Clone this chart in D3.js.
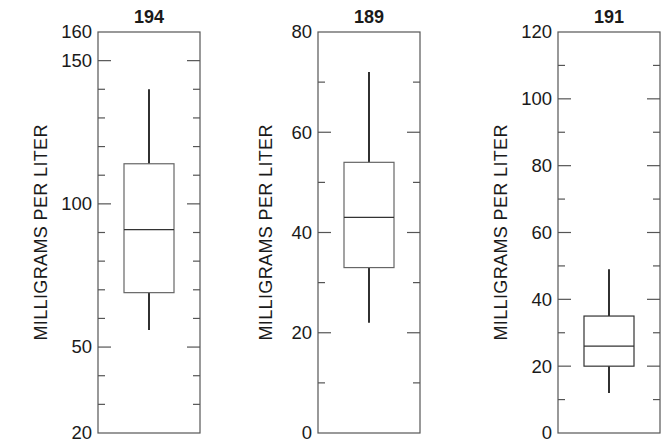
<!DOCTYPE html>
<html>
<head>
<meta charset="utf-8">
<script src="https://cdn.jsdelivr.net/npm/d3@7"></script>
<style>
  html, body { margin: 0; padding: 0; background: #fff; }
  svg { display: block; font-family: "Liberation Sans", Arial, Helvetica, sans-serif; }
</style>
</head>
<body>
<svg id="chart" width="666" height="444"></svg>
<script>
// ---- data ----
const titles = ["194", "189", "191"];
const yMin = [20, 0, 0];
const yMax = [160, 80, 120];
const tickLabels = [
  [20, 50, 100, 150, 160],
  [0, 20, 40, 60, 80],
  [0, 20, 40, 60, 80, 100, 120]
];
const majorTicks = [
  [50, 100, 150],
  [20, 40, 60],
  [20, 40, 60, 80, 100]
];
const minorTicks = [
  [30, 40, 60, 70, 80, 90, 110, 120, 130, 140],
  [10, 30, 50, 70],
  [10, 30, 50, 70, 90, 110]
];
const whiskerLow  = [56, 22, 12];
const quartile1   = [69, 33, 20];
const median      = [91, 43, 26];
const quartile3   = [114, 54, 35];
const whiskerHigh = [140, 72, 49];
const axisTitle = "MILLIGRAMS PER LITER";

// ---- layout ----
const frameLeft = [98, 318, 558];
const frameW = 102;
const plotTop = 32, plotBottom = 433;
const boxW = 50;
const titleOffset = [58, 53, 58];
const majorLen = 13, minorLen = 7;

const svg = d3.select("#chart");

titles.forEach((t, i) => {
  const x0 = frameLeft[i], x1 = x0 + frameW, cx = (x0 + x1) / 2;
  const y = d3.scaleLinear().domain([yMin[i], yMax[i]]).range([plotBottom, plotTop]);
  const g = svg.append("g");

  // frame
  g.append("rect")
    .attr("x", x0).attr("y", plotTop)
    .attr("width", frameW).attr("height", plotBottom - plotTop)
    .attr("fill", "none").attr("stroke", "#555").attr("stroke-width", 1.2);

  // left axis labels (d3 axis, no tick lines)
  const axL = d3.axisLeft(y).tickValues(tickLabels[i]).tickSize(0).tickPadding(6)
    .tickFormat(d3.format("d"));
  const gl = g.append("g").attr("transform", `translate(${x0},0)`).call(axL);
  gl.select(".domain").remove();
  gl.selectAll("text").attr("font-size", 18.5).attr("fill", "#1a1a1a")
    .attr("font-family", "'Liberation Sans', Arial, sans-serif");

  // inward ticks both sides
  const tickSets = [[majorTicks[i], majorLen], [minorTicks[i], minorLen]];
  tickSets.forEach(([vals, len]) => {
    vals.forEach(v => {
      g.append("line").attr("x1", x0).attr("x2", x0 + len)
        .attr("y1", y(v)).attr("y2", y(v))
        .attr("stroke", "#555").attr("stroke-width", 1.2);
      g.append("line").attr("x1", x1 - len).attr("x2", x1)
        .attr("y1", y(v)).attr("y2", y(v))
        .attr("stroke", "#555").attr("stroke-width", 1.2);
    });
  });

  // whiskers
  g.append("line").attr("x1", cx).attr("x2", cx)
    .attr("y1", y(whiskerHigh[i])).attr("y2", y(quartile3[i]))
    .attr("stroke", "#1a1a1a").attr("stroke-width", 1.8);
  g.append("line").attr("x1", cx).attr("x2", cx)
    .attr("y1", y(quartile1[i])).attr("y2", y(whiskerLow[i]))
    .attr("stroke", "#1a1a1a").attr("stroke-width", 1.8);

  // box
  const boxStroke = i === 2 ? "#333" : "#666";
  g.append("rect")
    .attr("x", cx - boxW / 2).attr("y", y(quartile3[i]))
    .attr("width", boxW).attr("height", y(quartile1[i]) - y(quartile3[i]))
    .attr("fill", "none").attr("stroke", boxStroke).attr("stroke-width", 1.2);
  g.append("line")
    .attr("x1", cx - boxW / 2).attr("x2", cx + boxW / 2)
    .attr("y1", y(median[i])).attr("y2", y(median[i]))
    .attr("stroke", "#333").attr("stroke-width", 1.2);

  // title
  g.append("text").attr("x", cx).attr("y", 23)
    .attr("text-anchor", "middle").attr("font-size", 18).attr("font-weight", "bold")
    .attr("fill", "#1a1a1a").text(t);

  // axis title
  const ax = x0 - titleOffset[i];
  g.append("text")
    .attr("transform", `translate(${ax + 6.5},${(plotTop + plotBottom) / 2}) rotate(-90)`)
    .attr("text-anchor", "middle").attr("font-size", 18)
    .attr("textLength", 216).attr("lengthAdjust", "spacing")
    .attr("fill", "#1a1a1a").text(axisTitle);
});
</script>
</body>
</html>
